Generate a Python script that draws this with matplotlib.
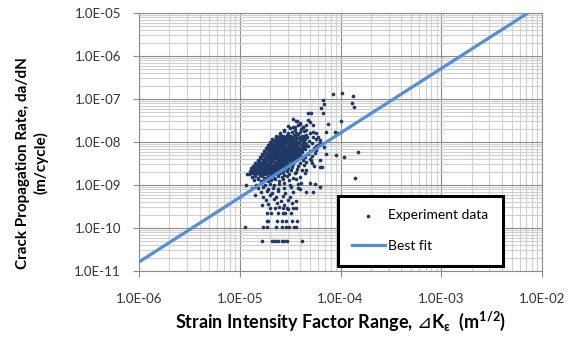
import numpy as np
import matplotlib.pyplot as plt
from matplotlib.ticker import LogLocator, NullFormatter

plt.rcParams['font.family'] = ['Lato', 'DejaVu Sans']
plt.rcParams['mathtext.fontset'] = 'custom'
plt.rcParams['mathtext.rm'] = 'Lato'
plt.rcParams['mathtext.bf'] = 'Lato:bold'
plt.rcParams['mathtext.sf'] = 'DejaVu Sans'
plt.rcParams['mathtext.fallback'] = 'stixsans'

# log10(dK), log10(da/dN)
cloud = [
    (-4.44, -7.52), (-4.40, -7.55), (-4.47, -7.46),
    (-4.52, -7.62), (-4.47, -7.65), (-4.42, -7.61), (-4.37, -7.66),
    (-4.56, -7.71), (-4.50, -7.68), (-4.45, -7.72), (-4.39, -7.69), (-4.34, -7.73),
    (-4.60, -7.78), (-4.56, -7.75), (-4.52, -7.79), (-4.48, -7.76), (-4.44, -7.80),
    (-4.40, -7.77), (-4.36, -7.74), (-4.30, -7.79),
    (-4.64, -7.85), (-4.60, -7.82), (-4.57, -7.86), (-4.53, -7.83), (-4.50, -7.87),
    (-4.46, -7.84), (-4.42, -7.81), (-4.38, -7.86), (-4.34, -7.83), (-4.27, -7.88),
    (-4.68, -7.92), (-4.64, -7.89), (-4.61, -7.93), (-4.58, -7.90), (-4.55, -7.94),
    (-4.52, -7.91), (-4.48, -7.88), (-4.45, -7.93), (-4.41, -7.90), (-4.37, -7.92),
    (-4.33, -7.89), (-4.24, -7.93),
    (-4.70, -7.99), (-4.67, -7.96), (-4.64, -8.00), (-4.61, -7.97), (-4.58, -8.01),
    (-4.55, -7.98), (-4.52, -7.95), (-4.49, -8.00), (-4.46, -7.97), (-4.43, -7.99),
    (-4.40, -7.96), (-4.36, -8.01), (-4.31, -7.98), (-4.20, -8.02),
    (-4.72, -8.06), (-4.69, -8.03), (-4.66, -8.07), (-4.63, -8.04), (-4.60, -8.08),
    (-4.57, -8.05), (-4.54, -8.02), (-4.51, -8.07), (-4.48, -8.04), (-4.45, -8.06),
    (-4.42, -8.03), (-4.38, -8.08), (-4.34, -8.05), (-4.28, -8.02), (-4.22, -8.07),
    (-4.74, -8.13), (-4.71, -8.10), (-4.68, -8.14), (-4.65, -8.11), (-4.62, -8.15),
    (-4.59, -8.12), (-4.56, -8.09), (-4.53, -8.14), (-4.50, -8.11), (-4.47, -8.13),
    (-4.44, -8.10), (-4.41, -8.15), (-4.37, -8.12), (-4.32, -8.09), (-4.26, -8.14),
    (-4.16, -8.11),
    (-4.76, -8.20), (-4.73, -8.17), (-4.70, -8.21), (-4.67, -8.18), (-4.64, -8.22),
    (-4.61, -8.19), (-4.58, -8.16), (-4.55, -8.21), (-4.52, -8.18), (-4.49, -8.20),
    (-4.46, -8.17), (-4.43, -8.22), (-4.40, -8.19), (-4.35, -8.16), (-4.30, -8.21),
    (-4.24, -8.18),
    (-4.78, -8.27), (-4.75, -8.24), (-4.72, -8.28), (-4.69, -8.25), (-4.66, -8.29),
    (-4.63, -8.26), (-4.60, -8.23), (-4.57, -8.28), (-4.54, -8.25), (-4.51, -8.27),
    (-4.48, -8.24), (-4.45, -8.29), (-4.42, -8.26), (-4.38, -8.23), (-4.32, -8.28),
    (-4.25, -8.25), (-4.14, -8.27),
    (-4.80, -8.34), (-4.77, -8.31), (-4.74, -8.35), (-4.71, -8.32), (-4.68, -8.36),
    (-4.65, -8.33), (-4.62, -8.30), (-4.59, -8.35), (-4.56, -8.32), (-4.53, -8.34),
    (-4.50, -8.31), (-4.47, -8.36), (-4.44, -8.33), (-4.40, -8.30), (-4.35, -8.35),
    (-4.28, -8.32),
    (-4.82, -8.41), (-4.79, -8.38), (-4.76, -8.42), (-4.73, -8.39), (-4.70, -8.43),
    (-4.67, -8.40), (-4.64, -8.37), (-4.61, -8.42), (-4.58, -8.39), (-4.55, -8.41),
    (-4.52, -8.38), (-4.49, -8.43), (-4.46, -8.40), (-4.42, -8.37), (-4.37, -8.42),
    (-4.30, -8.39), (-4.20, -8.41),
    (-4.85, -8.48), (-4.82, -8.45), (-4.79, -8.49), (-4.76, -8.46), (-4.73, -8.50),
    (-4.70, -8.47), (-4.67, -8.44), (-4.64, -8.49), (-4.61, -8.46), (-4.58, -8.48),
    (-4.55, -8.45), (-4.52, -8.50), (-4.49, -8.47), (-4.45, -8.44), (-4.40, -8.49),
    (-4.34, -8.46),
    (-4.87, -8.55), (-4.84, -8.52), (-4.81, -8.56), (-4.78, -8.53), (-4.75, -8.57),
    (-4.72, -8.54), (-4.69, -8.51), (-4.66, -8.56), (-4.63, -8.53), (-4.60, -8.55),
    (-4.57, -8.52), (-4.54, -8.57), (-4.51, -8.54), (-4.47, -8.51), (-4.42, -8.56),
    (-4.36, -8.53), (-4.26, -8.55),
    (-4.89, -8.61), (-4.86, -8.58), (-4.83, -8.62), (-4.80, -8.59), (-4.77, -8.63),
    (-4.74, -8.60), (-4.71, -8.57), (-4.68, -8.62), (-4.65, -8.59), (-4.62, -8.61),
    (-4.59, -8.58), (-4.56, -8.63), (-4.52, -8.60), (-4.48, -8.57), (-4.43, -8.62),
    (-4.90, -8.68), (-4.87, -8.65), (-4.84, -8.69), (-4.81, -8.66), (-4.78, -8.70),
    (-4.75, -8.67), (-4.72, -8.64), (-4.69, -8.69), (-4.66, -8.66), (-4.63, -8.68),
    (-4.60, -8.65), (-4.57, -8.70), (-4.53, -8.67), (-4.49, -8.64), (-4.44, -8.69),
    (-4.38, -8.66),
    (-4.91, -8.75), (-4.88, -8.72), (-4.85, -8.76), (-4.82, -8.73), (-4.79, -8.77),
    (-4.76, -8.74), (-4.73, -8.71), (-4.70, -8.76), (-4.67, -8.73), (-4.64, -8.75),
    (-4.60, -8.72), (-4.56, -8.77), (-4.51, -8.74), (-4.45, -8.71),
    (-4.88, -8.82), (-4.85, -8.79), (-4.82, -8.83), (-4.78, -8.80), (-4.75, -8.84),
    (-4.72, -8.81), (-4.69, -8.78), (-4.66, -8.83), (-4.62, -8.80), (-4.58, -8.82),
    (-4.53, -8.79), (-4.47, -8.84), (-4.40, -8.81),
    (-4.86, -8.89), (-4.82, -8.86), (-4.79, -8.90), (-4.76, -8.87), (-4.72, -8.91),
    (-4.69, -8.88), (-4.65, -8.85), (-4.61, -8.90), (-4.57, -8.87), (-4.51, -8.89),
    (-4.44, -8.86),
    (-4.84, -8.99), (-4.79, -8.96), (-4.75, -9.00), (-4.70, -8.97), (-4.66, -9.01),
    (-4.61, -8.98), (-4.56, -8.95), (-4.50, -9.00), (-4.42, -8.97),
    (-4.82, -9.08), (-4.77, -9.05), (-4.72, -9.09), (-4.67, -9.06), (-4.62, -9.10),
    (-4.56, -9.07), (-4.49, -9.04), (-4.40, -9.09),
    (-4.79, -9.17), (-4.73, -9.14), (-4.68, -9.18), (-4.62, -9.15), (-4.55, -9.19),
    (-4.47, -9.16),
    (-4.77, -9.27), (-4.70, -9.24), (-4.64, -9.28), (-4.57, -9.25), (-4.50, -9.29),
    (-4.74, -9.36), (-4.66, -9.33), (-4.59, -9.37), (-4.52, -9.34), (-4.44, -9.38),
    (-4.72, -9.45), (-4.63, -9.42), (-4.56, -9.46), (-4.48, -9.43),
    (-4.70, -9.54), (-4.61, -9.51), (-4.52, -9.55),
]

# extra points filling the dense core between the rows above
core = [
    (-4.62, -7.88), (-4.59, -7.86), (-4.55, -7.89), (-4.51, -7.87), (-4.48, -7.88),
    (-4.44, -7.86), (-4.40, -7.89), (-4.36, -7.87),
    (-4.66, -7.95), (-4.63, -7.93), (-4.59, -7.96), (-4.56, -7.94), (-4.53, -7.97),
    (-4.50, -7.92), (-4.47, -7.95), (-4.44, -7.94), (-4.39, -7.96), (-4.35, -7.93),
    (-4.69, -8.02), (-4.65, -8.03), (-4.62, -8.01), (-4.59, -8.04), (-4.56, -8.02),
    (-4.53, -8.00), (-4.50, -8.03), (-4.47, -8.01), (-4.44, -8.04), (-4.41, -8.02),
    (-4.37, -8.03),
    (-4.70, -8.09), (-4.67, -8.08), (-4.64, -8.10), (-4.61, -8.07), (-4.58, -8.09),
    (-4.55, -8.11), (-4.52, -8.08), (-4.49, -8.10), (-4.46, -8.07), (-4.43, -8.09),
    (-4.39, -8.08), (-4.35, -8.10),
    (-4.72, -8.16), (-4.69, -8.15), (-4.66, -8.17), (-4.63, -8.14), (-4.60, -8.16),
    (-4.57, -8.18), (-4.54, -8.15), (-4.51, -8.17), (-4.48, -8.14), (-4.45, -8.16),
    (-4.42, -8.15), (-4.38, -8.17),
    (-4.75, -8.23), (-4.71, -8.22), (-4.68, -8.24), (-4.65, -8.21), (-4.62, -8.23),
    (-4.59, -8.25), (-4.56, -8.22), (-4.53, -8.24), (-4.50, -8.21), (-4.47, -8.23),
    (-4.44, -8.22), (-4.41, -8.24),
    (-4.77, -8.30), (-4.73, -8.29), (-4.70, -8.31), (-4.67, -8.28), (-4.64, -8.30),
    (-4.61, -8.32), (-4.58, -8.29), (-4.55, -8.31), (-4.52, -8.28), (-4.49, -8.30),
    (-4.46, -8.29), (-4.43, -8.31),
    (-4.79, -8.37), (-4.75, -8.36), (-4.72, -8.38), (-4.69, -8.35), (-4.66, -8.37),
    (-4.63, -8.39), (-4.60, -8.36), (-4.57, -8.38), (-4.54, -8.35), (-4.51, -8.37),
    (-4.48, -8.36), (-4.45, -8.38),
    (-4.81, -8.44), (-4.77, -8.43), (-4.74, -8.45), (-4.71, -8.42), (-4.68, -8.44),
    (-4.65, -8.46), (-4.62, -8.43), (-4.59, -8.45), (-4.56, -8.42), (-4.53, -8.44),
    (-4.50, -8.43), (-4.47, -8.45),
    (-4.83, -8.51), (-4.80, -8.50), (-4.77, -8.52), (-4.74, -8.49), (-4.71, -8.51),
    (-4.68, -8.53), (-4.65, -8.50), (-4.62, -8.52), (-4.59, -8.49), (-4.56, -8.51),
    (-4.53, -8.50), (-4.50, -8.52),
    (-4.85, -8.58), (-4.82, -8.57), (-4.79, -8.59), (-4.76, -8.56), (-4.73, -8.58),
    (-4.70, -8.60), (-4.67, -8.57), (-4.64, -8.59), (-4.61, -8.56), (-4.58, -8.58),
    (-4.55, -8.57),
    (-4.88, -8.65), (-4.85, -8.64), (-4.82, -8.66), (-4.79, -8.63), (-4.76, -8.65),
    (-4.73, -8.67), (-4.70, -8.64), (-4.67, -8.66), (-4.64, -8.63), (-4.61, -8.65),
    (-4.58, -8.64),
    (-4.89, -8.72), (-4.86, -8.71), (-4.83, -8.73), (-4.80, -8.70), (-4.77, -8.72),
    (-4.74, -8.74), (-4.71, -8.71), (-4.68, -8.73), (-4.65, -8.70), (-4.62, -8.72),
]

tail = [
    (-4.78, -10.30), (-4.68, -10.30), (-4.65, -10.30), (-4.62, -10.30),
    (-4.58, -10.30), (-4.56, -10.30), (-4.53, -10.30), (-4.38, -10.30),
    (-4.95, -9.98), (-4.77, -9.98), (-4.73, -9.98), (-4.64, -9.98), (-4.58, -9.98),
    (-4.54, -9.98), (-4.51, -9.98), (-4.46, -9.98), (-4.44, -9.98),
    (-4.73, -9.83), (-4.72, -9.83), (-4.63, -9.83), (-4.58, -9.83), (-4.54, -9.83),
    (-4.48, -9.83), (-4.43, -9.83),
    (-4.73, -9.66), (-4.69, -9.66), (-4.62, -9.66), (-4.57, -9.66), (-4.55, -9.66),
    (-4.49, -9.66),
    (-4.65, -9.54), (-4.57, -9.54), (-4.53, -9.54), (-4.47, -9.54), (-4.44, -9.54),
    (-4.93, -8.75), (-4.80, -8.77), (-4.94, -9.00), (-4.88, -9.08), (-4.85, -9.23),
    (-4.78, -9.47),
]

upper = [
    (-4.07, -6.88), (-3.99, -6.87), (-3.88, -6.92), (-4.17, -7.02), (-4.16, -7.12),
    (-3.89, -7.09), (-3.87, -7.18), (-4.19, -7.22), (-4.32, -7.33), (-4.29, -7.32),
    (-4.17, -7.33), (-4.00, -7.50), (-4.12, -7.57), (-4.05, -7.77), (-4.02, -7.78),
    (-4.14, -7.76), (-3.83, -8.24), (-4.04, -8.30), (-3.97, -8.36), (-3.86, -8.83),
    (-4.20, -8.59), (-4.18, -8.59), (-4.34, -8.65), (-4.20, -9.05), (-4.25, -8.98),
    (-4.28, -8.49), (-4.35, -8.73), (-4.30, -8.96), (-4.39, -8.96), (-4.27, -9.16),
    (-4.34, -9.16), (-4.42, -9.08), (-4.29, -8.42), (-4.24, -8.09),
    (-4.32, -7.49), (-4.30, -7.54), (-4.27, -7.60), (-4.34, -7.60),
    (-4.43, -7.51), (-4.40, -7.59), (-4.37, -7.64), (-4.45, -7.64),
    (-4.27, -7.76), (-4.24, -7.80), (-4.22, -7.88), (-4.20, -7.95),
]

# best fit line end points
fit_dk = [1e-6, 1e-2]
fit_dadn = [1.62e-11, 1.62e-5]

x_ticks = [1e-6, 1e-5, 1e-4, 1e-3, 1e-2]
x_labels = ['1.0E-06', '1.0E-05', '1.0E-04', '1.0E-03', '1.0E-02']
y_ticks = [1e-11, 1e-10, 1e-9, 1e-8, 1e-7, 1e-6, 1e-5]
y_labels = ['1.0E-11', '1.0E-10', '1.0E-09', '1.0E-08', '1.0E-07', '1.0E-06', '1.0E-05']

pts = np.array(cloud + core + tail + upper)
dk = 10 ** pts[:, 0]
dadn = 10 ** pts[:, 1]

fig = plt.figure(figsize=(5.78, 3.38), dpi=100)
ax = fig.add_axes([139 / 578, 1 - 271 / 338, 403 / 578, 258 / 338])

ax.scatter(dk, dadn, s=7, color='#1F3864', marker='o', linewidths=0,
           label='Experiment data', zorder=3)
ax.plot(fit_dk, fit_dadn, color='#558ED5', lw=2.3, label='Best fit', zorder=4)

ax.set_xscale('log')
ax.set_yscale('log')
ax.set_xlim(1e-6, 1e-2)
ax.set_ylim(1e-11, 1e-5)

ax.set_xticks(x_ticks)
ax.set_xticklabels(x_labels)
ax.set_yticks(y_ticks)
ax.set_yticklabels(y_labels)
ax.xaxis.set_minor_locator(LogLocator(base=10, subs=np.arange(2, 10)))
ax.yaxis.set_minor_locator(LogLocator(base=10, subs=np.arange(2, 10)))
ax.xaxis.set_minor_formatter(NullFormatter())
ax.yaxis.set_minor_formatter(NullFormatter())

ax.grid(which='major', color='#8C8C8C', lw=0.8)
ax.grid(which='minor', color='#D0D0D0', lw=0.8)
ax.set_axisbelow(True)
for s in ax.spines.values():
    s.set_color('#8C8C8C')
    s.set_linewidth(0.8)

ax.tick_params(which='major', length=4, color='#8C8C8C', labelsize=9.5,
               labelcolor='#333333')
ax.tick_params(axis='x', which='major', pad=12)
ax.tick_params(axis='y', which='major', pad=9)
ax.tick_params(which='minor', length=0)

ax.set_xlabel('Strain Intensity Factor Range, $\\mathsf{⊿}$K$_\\mathbf{ε}$  (m$^\\mathbf{1/2}$)',
              fontsize=13, fontweight='bold', labelpad=3)
fig.text(32 / 578, 1 - 163 / 338, 'Crack Propagation Rate, da/dN\n(m/cycle)',
         rotation=90, ha='center', va='center', fontsize=11, fontweight='bold',
         linespacing=1.25, multialignment='center')

leg = ax.legend(loc='lower left', bbox_to_anchor=(0.493, 0.019, 0.41, 0.27),
                mode='expand', borderaxespad=0, fontsize=10, frameon=True,
                fancybox=False, edgecolor='black', handlelength=2.4,
                handletextpad=0.2, labelspacing=1.35, borderpad=1.0)
leg.get_frame().set_linewidth(2.2)
leg.get_frame().set_alpha(1)

fig.savefig('out.png', dpi=100)
